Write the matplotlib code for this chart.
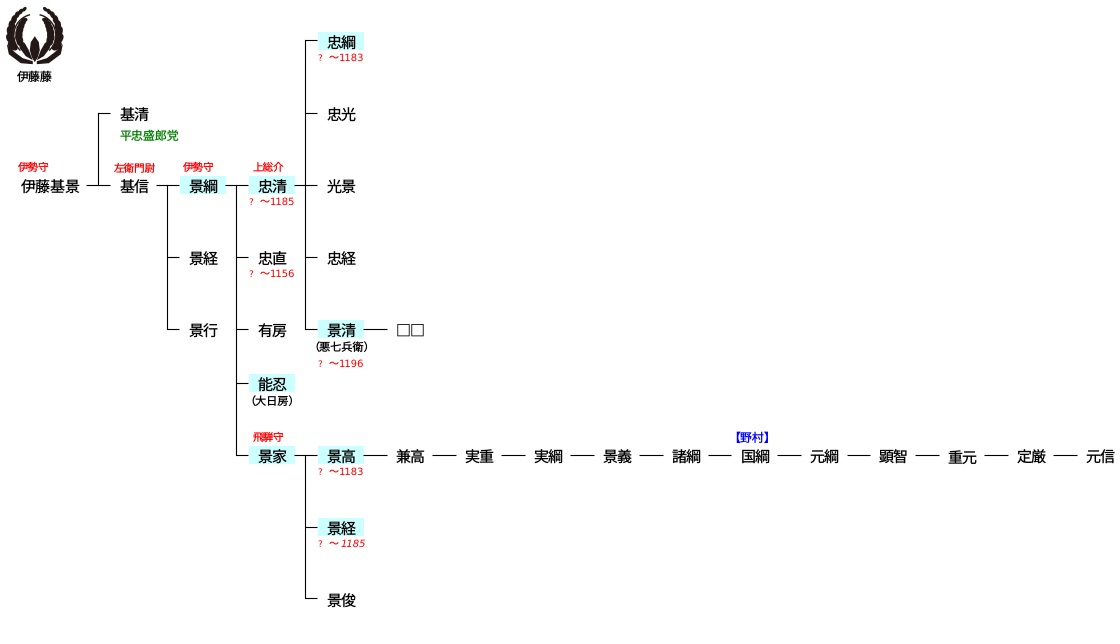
# -*- coding: utf-8 -*-
"""
伊藤氏 略系図
"""
import numpy as np
import matplotlib.pyplot as plt
from matplotlib.patches import Ellipse, Polygon, Rectangle

plt.rcParams['font.family'] = ['Noto Sans CJK JP', 'DejaVu Sans']
plt.rcParams['text.hinting'] = 'no_hinting'
plt.rcParams['text.hinting_factor'] = 1

# 人名と位置 (px)
names = ["伊藤基景", "基清", "基信", "景綱", "景経", "景行", "忠清", "忠直", "有房", "能忍", "景家",
         "忠綱", "忠光", "光景", "忠経", "景清", "□□", "景高", "景経", "景俊",
         "兼高", "実重", "実綱", "景義", "諸綱", "国綱", "元綱", "顕智", "重元", "定厳", "元信"]
name_x = [51, 135, 135, 204, 204, 204, 273, 273, 273, 273, 273,
          342, 342, 342, 342, 342, 411, 342, 342, 342,
          411, 480, 549, 618, 687, 756, 825, 894, 963, 1032, 1101]
name_y = [186, 114, 186, 186, 258, 330, 186, 258, 330, 384, 456,
          42, 114, 186, 258, 330, 330, 456, 528, 600,
          456, 456, 456, 456, 456, 456, 456, 456, 456, 456, 456]

# 水色の枠 (中心)
box_x = [204, 273, 342, 342, 273, 273, 342, 342]
box_y = [185, 185, 41, 329, 383, 455, 455, 527]

# 官職など
title_text = ["伊勢守", "左衛門尉", "伊勢守", "上総介", "飛騨守"]
title_x = [35, 136, 200, 269, 269]
title_y = [168, 168, 168, 168, 438]

# 生没年
life_years = ["1183", "1185", "1156", "1196", "1183", "1185"]
life_x = [318, 249, 249, 318, 318, 318]
life_y = [58, 202, 274, 364, 472, 544]
life_italic = [False, False, False, False, False, True]

# 注記
note_text = ["（悪七兵衛）", "（大日房）", "平忠盛郎党", "【野村】", "伊藤藤"]
note_x = [342, 273, 150, 753, 36]
note_y = [347, 401, 136, 438, 77]
note_color = ["black", "black", "green", "blue", "black"]

# 系線 (x1, x2, y)
h_lines = [(87, 111, 185), (99, 111, 113), (157, 180, 185), (168, 180, 257), (168, 180, 329),
           (226, 249, 185), (237, 249, 257), (237, 249, 329), (237, 249, 383), (237, 249, 455),
           (295, 318, 185), (306, 318, 40), (306, 318, 113), (306, 318, 257), (306, 318, 329),
           (364, 388, 329), (295, 318, 455), (306, 318, 527), (306, 318, 598),
           (364, 388, 455), (433, 457, 455), (502, 526, 455), (571, 595, 455), (640, 664, 455),
           (709, 732, 455), (778, 802, 455), (848, 871, 455), (916, 940, 455), (985, 1009, 455),
           (1054, 1078, 455)]
v_lines = [(99, 113, 185), (168, 185, 329), (237, 185, 455), (306, 40, 329), (306, 455, 598)]

fig = plt.figure(figsize=(11.2, 6.44), dpi=100)
ax = fig.add_axes([0, 0, 1, 1])
ax.set_xlim(0.7, 1120.7)
ax.set_ylim(643.8, -0.2)
ax.axis("off")

for bx, by in zip(box_x, box_y):
    ax.add_patch(Rectangle((bx - 23, by - 9), 46, 18, color="#ccffff", lw=0, zorder=1))

for x1, x2, y in h_lines:
    ax.plot([x1, x2], [y, y], color="black", lw=0.8, solid_capstyle="butt", zorder=2)
for x, y1, y2 in v_lines:
    ax.plot([x, x], [y1, y2], color="black", lw=0.8, solid_capstyle="projecting", zorder=2)

for n, x, y in zip(names, name_x, name_y):
    ax.text(x + 0.4, y + 6.6, n, ha="center", va="baseline", fontsize=10.8, color="black", zorder=3)

for t, x, y in zip(title_text, title_x, title_y):
    ax.text(x, y, t, ha="center", va="center", fontsize=7.6, color="red", zorder=3)

for yr, x, y, it in zip(life_years, life_x, life_y, life_italic):
    ax.text(x, y, "?", ha="left", va="center", fontsize=6.6, color="red",
            family="DejaVu Sans", zorder=3)
    ax.text(x + 11, y - 1, "～", ha="left", va="center", fontsize=7.2, color="red", zorder=3)
    ax.text(x + 47 + (2 if it else 0), y, yr, ha="right", va="center", fontsize=7.0, color="red",
            family="DejaVu Sans", style="italic" if it else "normal", zorder=3)

for t, x, y, c in zip(note_text, note_x, note_y, note_color):
    size = 8.6
    if t == "（悪七兵衛）" or t == "（大日房）":
        size = 8.0
    ax.text(x, y, t, ha="center", va="center", fontsize=size, color=c, zorder=3)

# 家紋 (下がり藤を丸く)
kamon_color = "#231815"
cx, cy = 35.5, 35.0
pair_ang = [64, 81, 98, 113, 127, 139, 149, 158]
pair_len = [11.5, 12, 11.5, 10.5, 9, 7.5, 6.5, 5.5]
pair_r = [24.5, 24.5, 24.5, 25, 26, 27, 27.5, 28]
for sgn in [-1, 1]:
    for a, l, rr in zip(pair_ang, pair_len, pair_r):
        r = np.radians(a)
        ex = cx + sgn * rr * np.sin(r)
        ey = cy + rr * np.cos(r)
        ax.add_patch(Ellipse((ex, ey), l, l * 0.62, angle=sgn * (-a + 25), color=kamon_color, lw=0, zorder=3))
        ang2 = a + 6
        if a < 145:
            ix = cx + sgn * (rr - 8.5) * np.sin(np.radians(ang2))
            iy = cy + (rr - 8.5) * np.cos(np.radians(ang2))
            ax.add_patch(Ellipse((ix, iy), l * 0.9, l * 0.6, angle=sgn * (-a - 25), color=kamon_color, lw=0, zorder=3))
    # 茎
    t = np.radians(np.linspace(45, 165, 40))
    ax.plot(cx + sgn * 21 * np.sin(t), cy + 21 * np.cos(t), color=kamon_color, lw=1.0, zorder=3)
    # 下の葉
    ax.add_patch(Polygon([(cx + sgn * 2, 60), (cx + sgn * 9, 56), (cx + sgn * 15, 48), (cx + sgn * 17, 38),
                          (cx + sgn * 10, 43), (cx + sgn * 6, 50)], closed=True, color=kamon_color, lw=0, zorder=3))
    ax.add_patch(Polygon([(cx + sgn * 2, 61), (cx + sgn * 12, 58), (cx + sgn * 20, 52), (cx + sgn * 28, 44),
                          (cx + sgn * 26, 54), (cx + sgn * 14, 63), (cx + sgn * 2, 64)], closed=True,
                         color=kamon_color, lw=0, zorder=3))
ax.add_patch(Polygon([(cx, 36), (cx + 4, 42), (cx + 5, 50), (cx + 3, 57), (cx, 62), (cx - 3, 57),
                      (cx - 5, 50), (cx - 4, 42)], closed=True, color=kamon_color, lw=0, zorder=4))

fig.savefig("out.png", dpi=100, facecolor="white")
